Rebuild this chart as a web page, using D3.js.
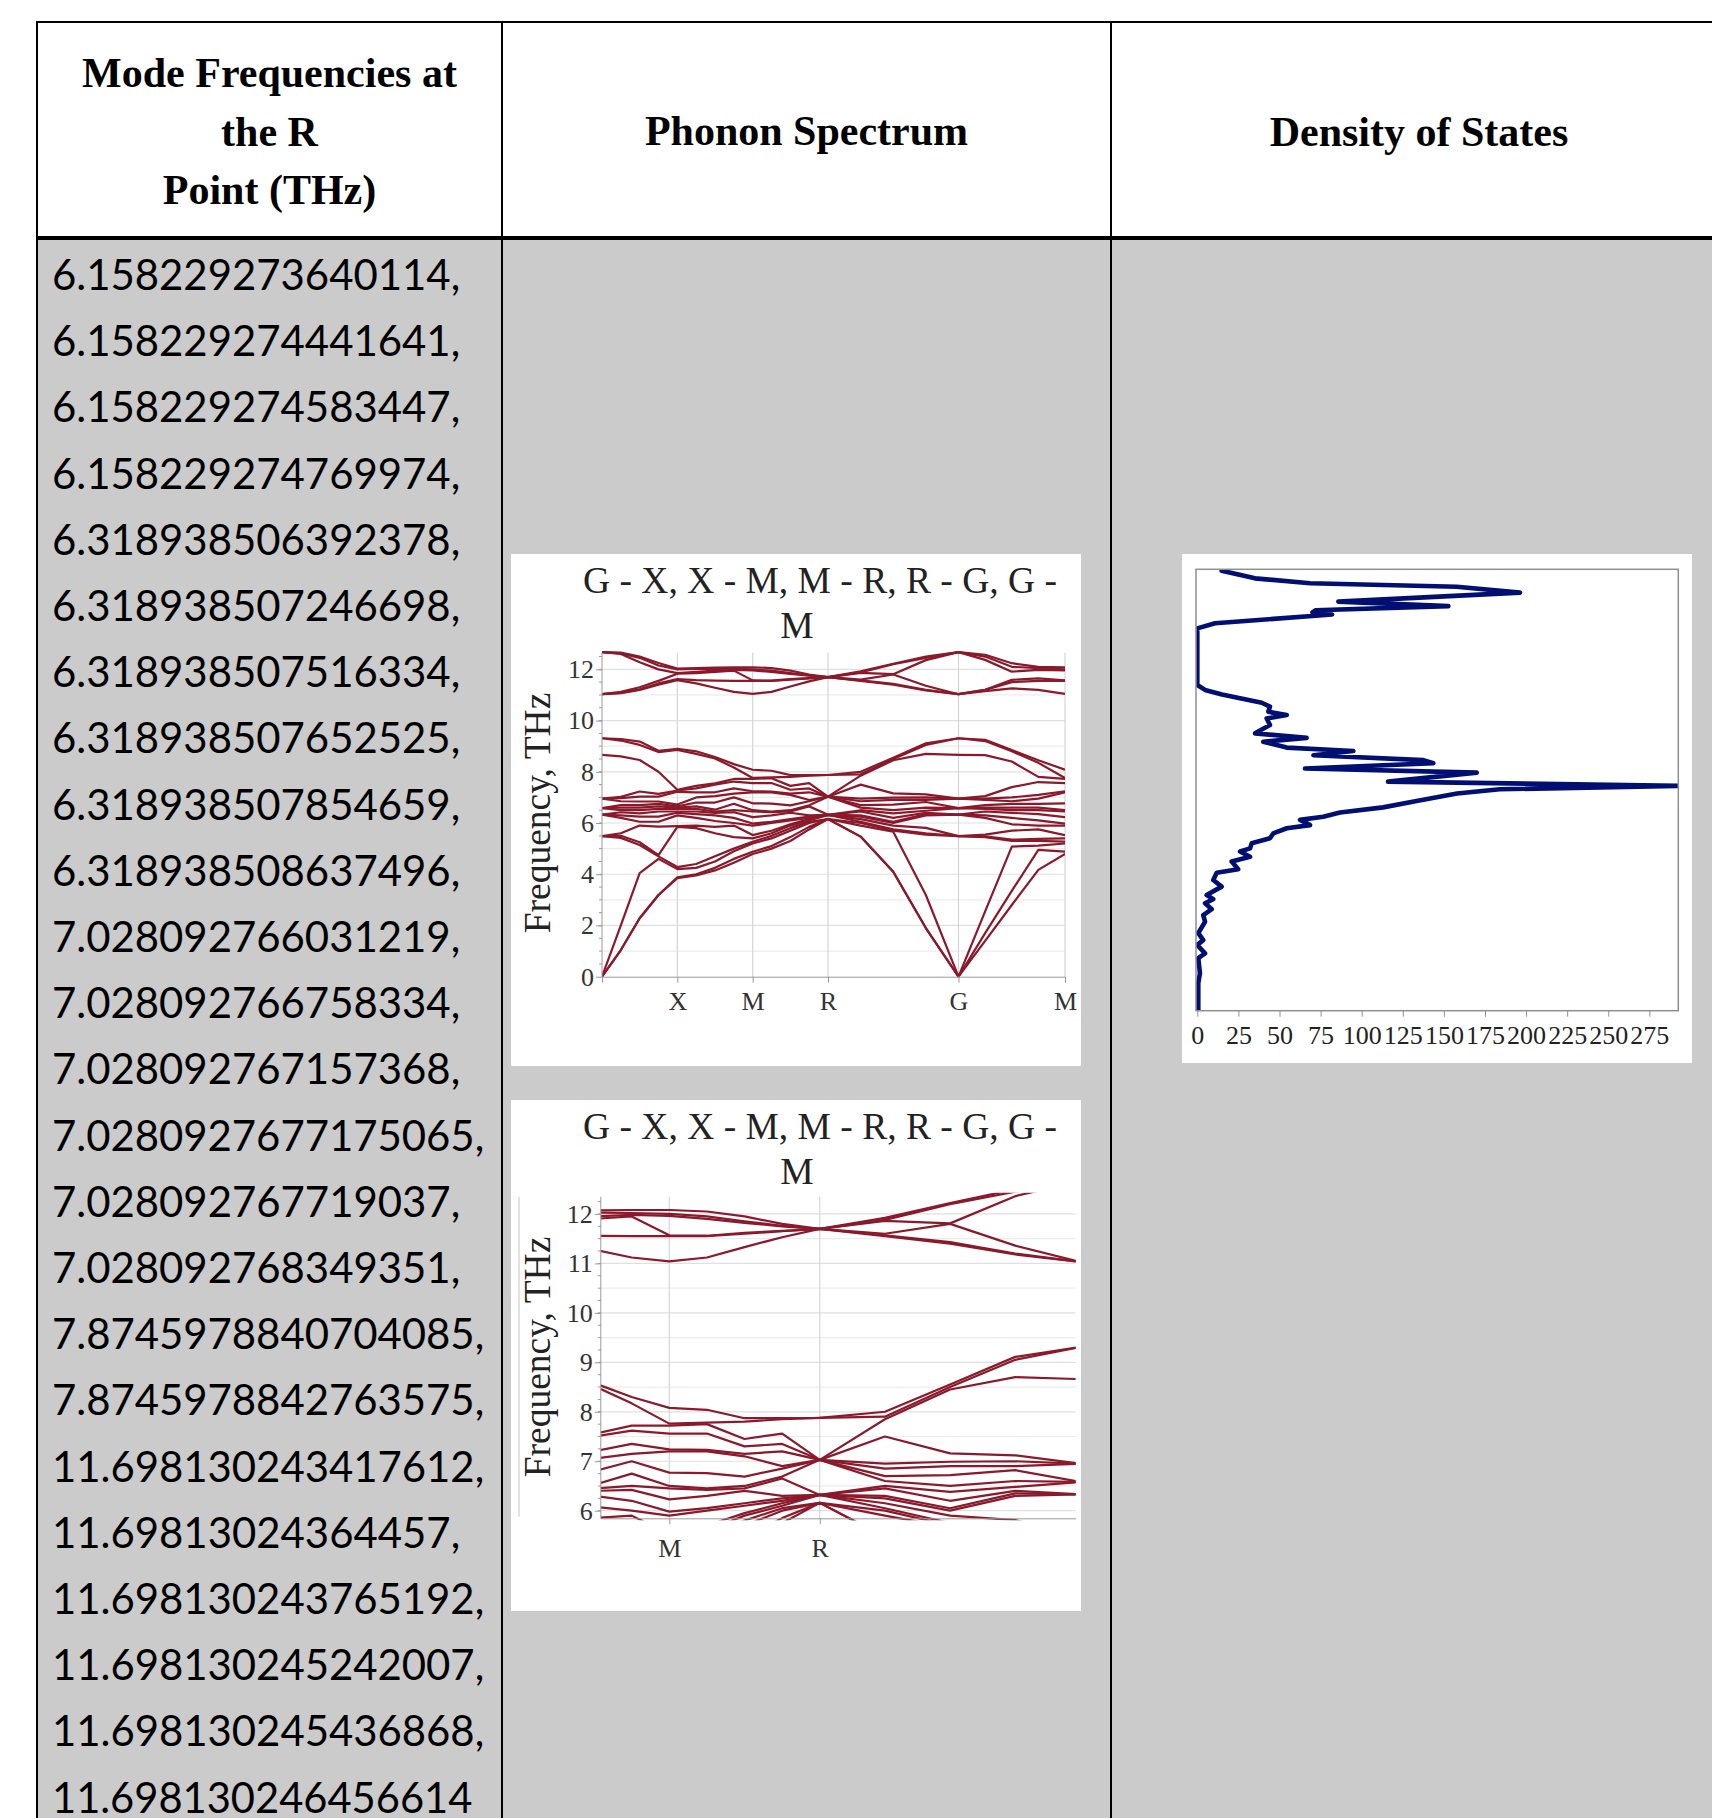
<!DOCTYPE html>
<html><head><meta charset="utf-8">
<script src="https://cdn.jsdelivr.net/npm/d3@7"></script>
<style>
html,body{margin:0;padding:0;background:#fff;}
svg{display:block;}
</style></head>
<body>
<svg id="c" width="1712" height="1818"></svg>
<script>
// ---------- DATA ----------
const headerCol1 = ["Mode Frequencies at", "the R", "Point (THz)"];
const headerCol2 = "Phonon Spectrum";
const headerCol3 = "Density of States";
const modeFrequencies = [
  "6.158229273640114,", "6.158229274441641,", "6.158229274583447,", "6.158229274769974,",
  "6.318938506392378,", "6.318938507246698,", "6.318938507516334,", "6.318938507652525,",
  "6.318938507854659,", "6.318938508637496,", "7.028092766031219,", "7.028092766758334,",
  "7.028092767157368,", "7.0280927677175065,", "7.028092767719037,", "7.028092768349351,",
  "7.8745978840704085,", "7.8745978842763575,", "11.698130243417612,", "11.69813024364457,",
  "11.698130243765192,", "11.698130245242007,", "11.698130245436868,", "11.698130246456614"
];
const chartTitle = ["G - X, X - M, M - R, R - G, G -", "M"];
const yAxisTitle = "Frequency, THz";
const symLabels = ["", "X", "M", "R", "G", "M"];
const symPositions = [0, 0.5, 1.0, 1.5, 2.366, 3.073];
const kValues = [0, 0.125, 0.25, 0.375, 0.5, 0.625, 0.75, 0.875, 1.0, 1.125, 1.25, 1.375, 1.5,
                 1.7165, 1.933, 2.1495, 2.366, 2.543, 2.720, 2.896, 3.073];
// mode frequencies (THz) at each sampled k-point, per path segment
const segGX = [
  [0,0,0,5.49,5.49,5.49,6.33,6.33,6.33,6.58,6.58,6.58,6.95,6.95,6.95,8.66,9.31,9.31,11.03,11.03,11.03,12.67,12.67,12.67],
  [1.04,1.04,2.0,5.42,5.5,5.6,6.2,6.3,6.42,6.5,6.6,6.7,6.85,6.97,7.02,8.6,9.22,9.28,11.07,11.08,11.12,12.6,12.62,12.65],
  [2.28,2.28,4.04,5.14,5.25,5.9,6.05,6.25,6.38,6.5,6.6,6.7,6.84,7.03,7.23,8.46,9.05,9.18,11.2,11.22,11.3,12.28,12.45,12.5],
  [3.19,3.19,4.75,4.6,4.7,5.86,6.05,6.25,6.45,6.55,6.65,6.75,6.84,7.03,7.14,8.0,8.77,8.82,11.4,11.45,11.55,12.0,12.15,12.25],
  [3.85,3.88,4.2,4.28,5.85,5.88,6.3,6.4,6.45,6.55,6.6,6.65,6.72,7.22,7.27,7.3,8.85,8.9,11.58,11.62,11.83,11.85,12.0,12.03]
];
const segXM = [
  [3.95,4.0,4.25,4.4,5.8,5.9,6.2,6.35,6.45,6.55,6.65,6.8,7.0,7.2,7.35,7.45,8.7,8.8,11.45,11.58,11.85,11.9,12.02,12.05],
  [4.15,4.25,4.5,4.7,5.6,5.85,6.08,6.3,6.4,6.45,6.52,6.8,7.05,7.2,7.5,7.55,8.52,8.58,11.28,11.56,11.9,11.95,12.03,12.07],
  [4.45,4.6,4.9,5.0,5.45,5.9,6.0,6.2,6.42,6.5,6.75,7.0,7.15,7.35,7.62,7.72,8.17,8.3,11.12,11.55,11.95,11.98,12.02,12.08],
  [4.79,4.88,5.2,5.27,5.4,5.53,5.9,5.98,6.23,6.45,6.5,6.77,7.2,7.24,7.56,7.72,7.76,8.08,11.04,11.55,11.57,11.96,12.0,12.08]
];
const segMR = [
  [5.0,5.1,5.4,5.5,5.6,5.7,6.0,6.05,6.3,6.42,6.45,6.76,7.2,7.23,7.56,7.75,7.78,8.04,11.12,11.55,11.56,11.9,11.95,12.05],
  [5.3,5.45,5.7,5.8,5.9,5.95,6.1,6.15,6.4,6.45,6.5,6.69,7.1,7.15,7.3,7.45,7.8,7.87,11.33,11.6,11.62,11.82,11.85,11.95],
  [5.75,5.85,6.0,6.05,6.1,6.15,6.2,6.25,6.3,6.65,6.69,6.85,6.9,7.2,7.35,7.56,7.85,7.87,11.53,11.65,11.66,11.75,11.76,11.8],
  [6.158,6.158,6.158,6.158,6.319,6.319,6.319,6.319,6.319,6.319,7.028,7.028,7.028,7.028,7.028,7.028,7.875,7.875,11.698,11.698,11.698,11.698,11.698,11.698]
];
const segRG = [
  [5.47,5.47,5.9,6.0,6.05,6.15,6.25,6.3,6.45,6.5,6.6,6.7,6.85,6.95,7.5,7.85,7.9,8.0,11.55,11.57,11.6,11.86,11.88,11.92],
  [4.1,4.1,5.66,5.7,5.75,5.9,6.0,6.05,6.2,6.38,6.5,6.72,6.9,6.99,7.16,8.45,8.5,8.55,11.4,11.43,11.8,11.81,12.2,12.22],
  [1.9,1.9,3.19,5.55,5.6,5.81,6.3,6.35,6.4,6.48,6.6,6.82,6.9,7.0,7.12,8.7,9.05,9.11,11.18,11.2,11.36,12.36,12.45,12.5],
  [0,0,0,5.49,5.49,5.49,6.33,6.33,6.33,6.58,6.58,6.58,6.95,6.95,6.95,8.66,9.31,9.31,11.03,11.03,11.03,12.67,12.67,12.67]
];
const segGM = [
  [1.4,1.7,2.55,5.45,5.48,5.55,6.2,6.3,6.45,6.55,6.6,6.7,6.9,6.95,7.05,8.65,9.2,9.25,11.15,11.2,11.2,12.37,12.5,12.57],
  [2.8,3.35,5.08,5.3,5.35,5.7,5.95,6.2,6.4,6.5,6.6,6.75,6.85,7.0,7.4,8.4,8.8,8.85,11.26,11.5,11.59,11.91,12.1,12.24],
  [4.17,4.95,5.12,5.3,5.38,5.75,5.9,6.1,6.35,6.5,6.6,6.75,6.95,7.1,7.6,7.8,8.35,8.45,11.2,11.55,11.65,11.98,12.05,12.1],
  [4.79,4.88,5.2,5.27,5.4,5.53,5.9,5.98,6.23,6.45,6.5,6.77,7.2,7.24,7.56,7.72,7.76,8.08,11.04,11.55,11.57,11.96,12.0,12.08]
];
// density of states: frequency (THz) and states
const dosFreq = [0.00,0.79,1.08,1.51,1.65,1.89,2.03,2.23,2.56,2.75,2.92,3.09,3.21,3.33,3.57,3.76,3.97,4.07,4.29,4.43,
  4.58,4.67,4.82,4.96,5.10,5.25,5.34,5.49,5.58,5.70,5.85,6.05,6.25,6.37,6.47,6.59,6.85,6.97,7.12,7.21,
  7.35,7.47,7.57,7.74,7.85,7.98,8.22,8.41,8.51,8.60,8.75,8.86,8.99,9.10,9.23,9.37,11.00,11.15,11.40,11.46,
  11.52,11.64,11.77,12.03,12.20,12.30,12.44,12.66];
const dosStates = [0.6,0.6,1.6,0.6,4.7,0,3.6,0.6,4.7,3.6,8.8,4.7,9.7,5.7,14.8,9.7,11.8,24.9,20.9,32.1,
  26,32.1,33.1,44.2,46.2,54.4,68.6,62.5,76.6,86.8,113,135,158,184,292,116,170,65.5,143.6,137.5,
  70.6,94.9,54.4,40.1,66.5,35.1,44.2,42.2,54.4,43.2,44.2,39.2,26,15,4.7,0,0,10.8,82,70,
  72,152.7,85.8,196.3,157.8,68.6,35.1,14.8];
const dosTicks = [0,25,50,75,100,125,150,175,200,225,250,275];

// ---------- DRAW ----------
const svg = d3.select("#c");
const SERIF = "'Liberation Serif','Times New Roman',serif";
const GREY = "#cbcbcb";

// table body background
svg.append("rect").attr("x", 37).attr("y", 238).attr("width", 1712 - 37).attr("height", 1818 - 238).attr("fill", GREY);
// table lines
const tl = svg.append("g").attr("stroke", "#000");
tl.append("line").attr("x1", 36).attr("x2", 1712).attr("y1", 22).attr("y2", 22).attr("stroke-width", 2);
tl.append("line").attr("x1", 36).attr("x2", 1712).attr("y1", 238).attr("y2", 238).attr("stroke-width", 4);
[37, 502, 1111].forEach(xv => tl.append("line").attr("x1", xv).attr("x2", xv).attr("y1", 21).attr("y2", 1818).attr("stroke-width", 2));

// header text
const hdr = svg.append("g").attr("font-family", SERIF).attr("font-weight", "bold").attr("font-size", 42)
  .attr("text-anchor", "middle").attr("fill", "#000");
headerCol1.forEach((t, i) => hdr.append("text").attr("x", 269.5).attr("y", 87 + i * 58.5).text(t));
hdr.append("text").attr("x", 806.5).attr("y", 145).text(headerCol2);
hdr.append("text").attr("x", 1419).attr("y", 146).text(headerCol3);

// numbers column
const numG = svg.append("g").attr("font-family", "Lato,'Open Sans',sans-serif").attr("font-size", 42).attr("fill", "#000");
modeFrequencies.forEach((t, i) => {
  const by = 290 + i * 66.2;
  const g = numG.append("g").attr("transform", `translate(52,${by})`);
  const tx = g.append("text").attr("x", 0).attr("y", 0).text(t);
  const nd = (t.match(/\d/g) || []).length, np = t.length - nd;
  const target = 47.4 * (0.507 * nd + 0.251 * np);
  const w = tx.node().getComputedTextLength();
  if (w > 0) g.attr("transform", `translate(52,${by}) scale(${target / w},1)`);
});

// ----- phonon chart -----
const kLists = [].concat(segGX, segXM, segMR, segRG, segGM).map(a => a.slice().sort((p, q) => p - q));
const nBands = kLists[0].length;
const bands = d3.range(nBands).map(b => kValues.map((k, j) => ({k: k, f: kLists[j][b]})));

function phonon(o) {
  const g = svg.append("g");
  g.append("rect").attr("x", o.box[0]).attr("y", o.box[1]).attr("width", o.box[2]).attr("height", o.box[3]).attr("fill", "#fff");
  const x = d3.scaleLinear().domain(o.kDom).range([o.px0, o.px1]);
  const y = d3.scaleLinear().domain(o.fDom).range([o.py0, o.py1]);
  // grid
  g.selectAll(null).data(o.gridMinor).join("line")
    .attr("x1", o.px0).attr("x2", o.px1).attr("y1", d => y(d)).attr("y2", d => y(d))
    .attr("stroke", "#ececec").attr("stroke-width", 1.2);
  g.selectAll(null).data(o.gridMajor).join("line")
    .attr("x1", o.px0).attr("x2", o.px1).attr("y1", d => y(d)).attr("y2", d => y(d))
    .attr("stroke", "#e0e0e0").attr("stroke-width", 1.2);
  const vs = symPositions.filter(v => v > o.kDom[0] + 1e-6 && v <= o.kDom[1] + 1e-6);
  g.selectAll(null).data(vs).join("line")
    .attr("x1", d => x(d)).attr("x2", d => x(d)).attr("y1", o.py0).attr("y2", y(o.vTop))
    .attr("stroke", "#d6d6d6").attr("stroke-width", 1.2);
  // clip
  const cid = "clip" + o.id;
  g.append("clipPath").attr("id", cid).append("rect")
    .attr("x", o.px0).attr("y", o.clipTop).attr("width", o.px1 - o.px0).attr("height", o.py0 - o.clipTop + 2);
  const line = d3.line().x(d => x(d.k)).y(d => y(d.f));
  g.append("g").attr("clip-path", `url(#${cid})`).selectAll("path").data(bands).join("path")
    .attr("d", line).attr("fill", "none").attr("stroke", "#8a1a2b").attr("stroke-width", 2.2)
    .attr("stroke-linejoin", "round");
  // axes
  const ya = d3.axisLeft(y).tickValues(o.yTicks).tickSize(6).tickSizeOuter(0).tickPadding(2).tickFormat(d3.format("d"));
  const yg = g.append("g").attr("transform", `translate(${o.px0},0)`).call(ya);
  yg.select(".domain").attr("stroke", "#9a9a9a").attr("d", `M0,${y(o.vTop)}V${o.py0}`);
  // minor ticks
  g.selectAll(null).data(o.minorTicks).join("line")
    .attr("x1", o.px0 - 3).attr("x2", o.px0).attr("y1", d => y(d)).attr("y2", d => y(d)).attr("stroke", "#9a9a9a");
  const xticks = symPositions.filter(v => v >= o.kDom[0] - 1e-6 && v <= o.kDom[1] + 1e-6);
  const xa = d3.axisBottom(x).tickValues(xticks).tickSize(6).tickSizeOuter(0).tickPadding(o.xPad)
    .tickFormat(d => symLabels[symPositions.indexOf(d)]);
  const xg = g.append("g").attr("transform", `translate(0,${o.py0})`).call(xa);
  xg.select(".domain").attr("stroke", "#9a9a9a");
  [yg, xg].forEach(a => {
    a.selectAll(".tick line").attr("stroke", "#9a9a9a");
    a.selectAll("text").attr("font-family", SERIF).attr("font-size", 26).attr("fill", "#333");
  });
  xg.selectAll("text").attr("font-size", 26);
  // title
  const tg = g.append("g").attr("font-family", SERIF).attr("font-size", 37.5).attr("fill", "#222").attr("text-anchor", "middle");
  tg.append("text").attr("x", 820).attr("y", o.box[1] + 39).text(chartTitle[0]);
  tg.append("text").attr("x", 797).attr("y", o.box[1] + 84).text(chartTitle[1]);
  tg.append("text").attr("transform", `translate(550,${o.yLabelY}) rotate(-90)`).text(yAxisTitle);
  if (o.sideLine) {
    g.append("line").attr("x1", 519).attr("x2", 519).attr("y1", o.sideLine[0]).attr("y2", o.sideLine[1])
      .attr("stroke", "#cfcfcf").attr("stroke-width", 1.2);
  }
}

phonon({
  id: 1, box: [511, 554, 570, 512],
  kDom: [0, 3.073], px0: 602, px1: 1065,
  fDom: [0, 12.65], py0: 976.7, py1: 652.7, vTop: 12.65, clipTop: 648,
  gridMajor: [2, 4, 6, 8, 10, 12], gridMinor: [1, 3, 5, 7, 9, 11],
  yTicks: [0, 2, 4, 6, 8, 10, 12], minorTicks: d3.range(0.5, 12.6, 0.5),
  xPad: 9, yLabelY: 813
});
phonon({
  id: 2, box: [511, 1100, 570, 511],
  kDom: [0.7724, 2.35], px0: 600.8, px1: 1075.6,
  fDom: [5.846, 12.43], py0: 1518.3, py1: 1192.7, vTop: 12.35, clipTop: 1192.7,
  gridMajor: [6, 7, 8, 9, 10, 11, 12], gridMinor: [6.5, 7.5, 8.5, 9.5, 10.5, 11.5],
  yTicks: [6, 7, 8, 9, 10, 11, 12], minorTicks: d3.range(6, 12.36, 0.25),
  xPad: 14, yLabelY: 1357, sideLine: [1196.7, 1516.7]
});

// ----- DOS chart -----
(function () {
  const g = svg.append("g");
  g.append("rect").attr("x", 1182).attr("y", 554).attr("width", 510).attr("height", 509).attr("fill", "#fff");
  const x = d3.scaleLinear().domain([-0.8, 292.6]).range([1196, 1678.3]);
  const y = d3.scaleLinear().domain([0, 12.7]).range([1010.7, 569.3]);
  g.append("clipPath").attr("id", "clipDos").append("rect")
    .attr("x", 1196).attr("y", 569.3).attr("width", 482.3).attr("height", 441.4);
  const pts = dosFreq.map((f, i) => ({f: f, v: dosStates[i]}));
  g.append("path").attr("clip-path", "url(#clipDos)").datum(pts)
    .attr("d", d3.line().x(d => x(d.v)).y(d => y(d.f)))
    .attr("fill", "none").attr("stroke", "#020f72").attr("stroke-width", 4.6)
    .attr("stroke-linejoin", "round").attr("stroke-linecap", "round");
  g.append("rect").attr("x", 1196).attr("y", 569.3).attr("width", 482.3).attr("height", 441.4)
    .attr("fill", "none").attr("stroke", "#8f8f8f").attr("stroke-width", 1.5);
  const xa = d3.axisBottom(x).tickValues(dosTicks).tickSize(6).tickSizeOuter(0).tickPadding(9).tickFormat(d3.format("d"));
  const xg = g.append("g").attr("transform", "translate(0,1010.7)").call(xa);
  xg.select(".domain").remove();
  xg.selectAll(".tick line").attr("stroke", "#8f8f8f");
  xg.selectAll("text").attr("font-family", SERIF).attr("font-size", 26).attr("fill", "#222");
})();
</script>
</body></html>
